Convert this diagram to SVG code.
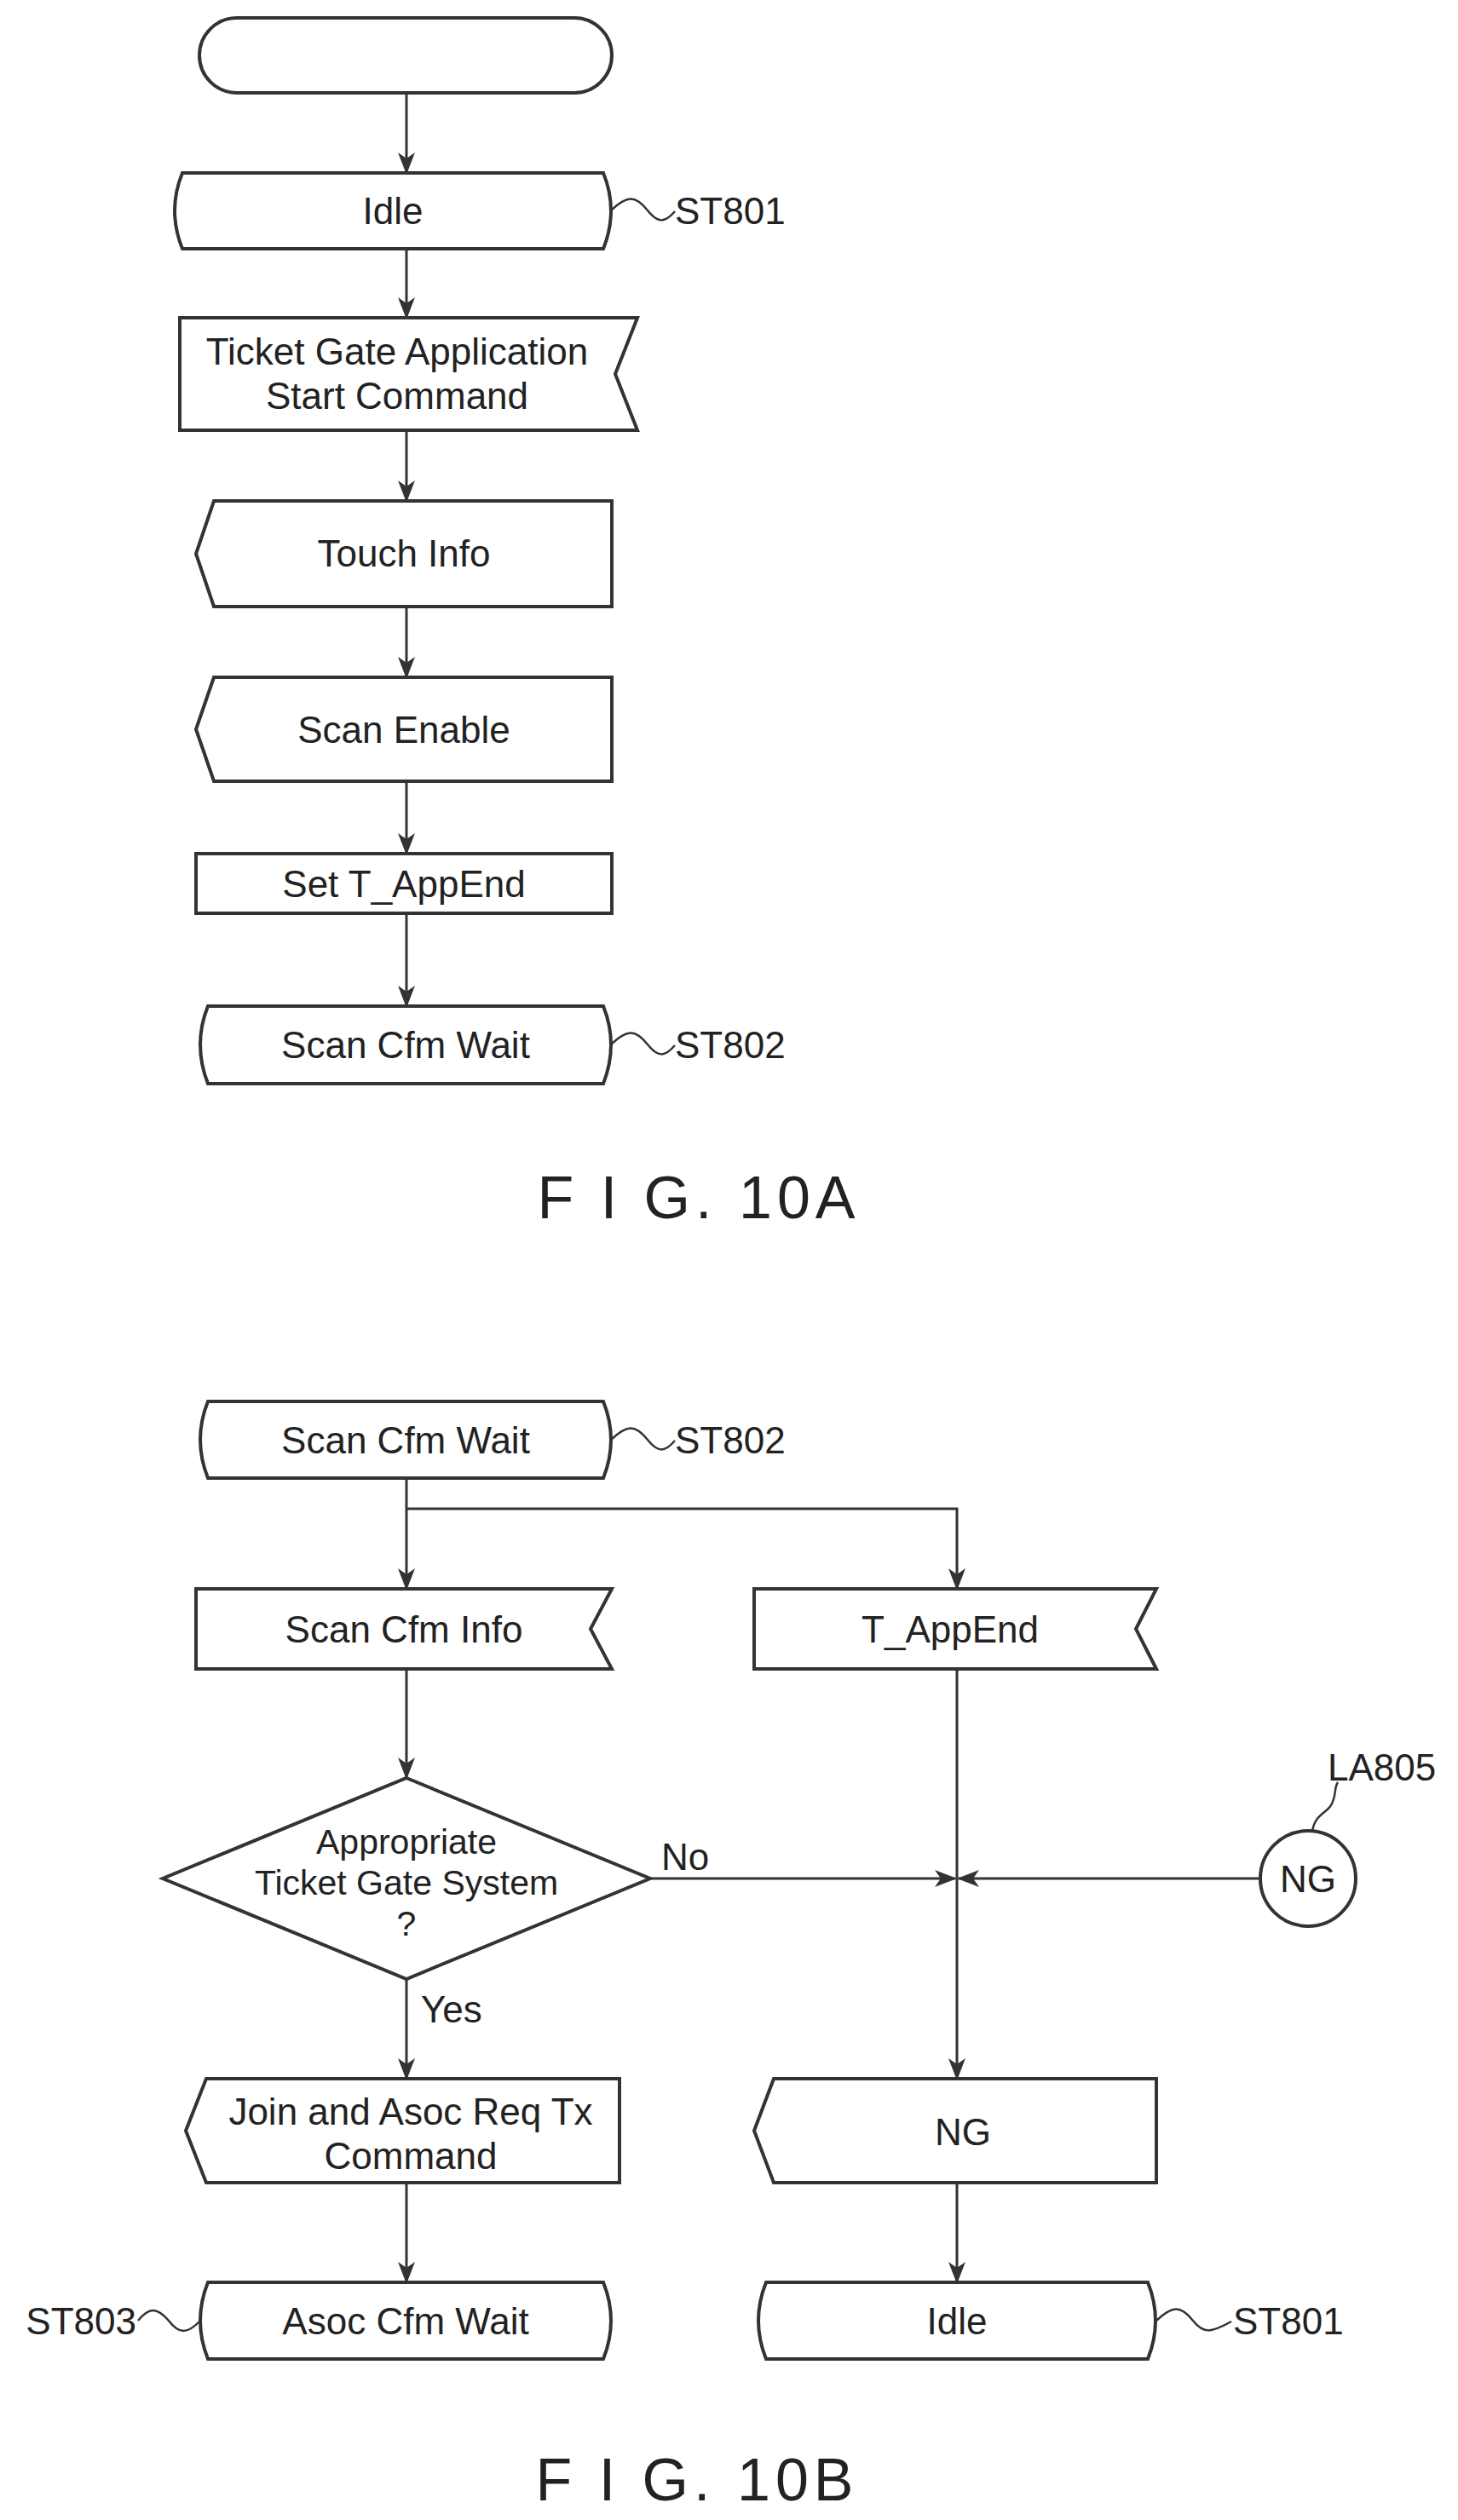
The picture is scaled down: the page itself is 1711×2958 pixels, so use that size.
<svg xmlns="http://www.w3.org/2000/svg" width="1711" height="2958" viewBox="0 0 1711 2958">
<defs>
<marker id="ah" markerWidth="26" markerHeight="22" refX="24" refY="11" orient="auto" markerUnits="userSpaceOnUse">
<path d="M0,1 L7,11 L0,21 L26,11 Z" fill="#333"/>
</marker>
</defs>
<style>
.s{fill:#fff;stroke:#333;stroke-width:4}
.t{font-family:"Liberation Sans",Arial,sans-serif;font-size:44px;fill:#222;text-anchor:middle}
.d{font-family:"Liberation Sans",Arial,sans-serif;font-size:41px;fill:#222;text-anchor:middle}
.l{font-family:"Liberation Sans",Arial,sans-serif;font-size:44px;fill:#222}
.f{font-family:"Liberation Sans","Arial",sans-serif;font-size:70px;fill:#222;text-anchor:middle;letter-spacing:6px}
.c{fill:none;stroke:#333;stroke-width:3}
.sq{fill:none;stroke:#333;stroke-width:2.5}
</style>
<g id="connectors">
<line class="c" x1="477" y1="109" x2="477" y2="203" marker-end="url(#ah)"/>
<line class="c" x1="477" y1="292" x2="477" y2="373" marker-end="url(#ah)"/>
<line class="c" x1="477" y1="505" x2="477" y2="588" marker-end="url(#ah)"/>
<line class="c" x1="477" y1="712" x2="477" y2="795" marker-end="url(#ah)"/>
<line class="c" x1="477" y1="917" x2="477" y2="1002" marker-end="url(#ah)"/>
<line class="c" x1="477" y1="1072" x2="477" y2="1181" marker-end="url(#ah)"/>
<line class="c" x1="477" y1="1735" x2="477" y2="1865" marker-end="url(#ah)"/>
<polyline class="c" points="477,1771 1123,1771 1123,1865" marker-end="url(#ah)"/>
<line class="c" x1="477" y1="1959" x2="477" y2="2087" marker-end="url(#ah)"/>
<line class="c" x1="477" y1="2323" x2="477" y2="2440" marker-end="url(#ah)"/>
<line class="c" x1="477" y1="2562" x2="477" y2="2679" marker-end="url(#ah)"/>
<line class="c" x1="1123" y1="1959" x2="1123" y2="2440" marker-end="url(#ah)"/>
<line class="c" x1="763" y1="2205" x2="1121" y2="2205" marker-end="url(#ah)"/>
<line class="c" x1="1479" y1="2205" x2="1125" y2="2205" marker-end="url(#ah)"/>
<line class="c" x1="1123" y1="2562" x2="1123" y2="2679" marker-end="url(#ah)"/>
<text class="l" x="776" y="2195">No</text>
<text class="l" x="494" y="2374">Yes</text>
</g>
<g id="start"><rect class="s" x="234" y="21" width="484" height="88" rx="44"/></g>
<g id="idle1">
<path class="s" d="M214,203 H708 Q726,247 708,292 H214 Q196,247 214,203 Z"/>
<text class="t" x="461" y="263">Idle</text>
<path class="sq" d="M717,247 C735,230 745,228 760,247 C772,262 780,262 792,248"/>
<text class="l" x="792" y="263">ST801</text>
</g>
<g id="tgstart">
<path class="s" d="M211,373 H748 L722,439 L748,505 H211 Z"/>
<text class="t" x="466" y="428">Ticket Gate Application</text>
<text class="t" x="466" y="480">Start Command</text>
</g>
<g id="touch">
<path class="s" d="M251,588 H718 V712 H251 L230,650 Z"/>
<text class="t" x="474" y="665">Touch Info</text>
</g>
<g id="scanenable">
<path class="s" d="M251,795 H718 V917 H251 L230,856 Z"/>
<text class="t" x="474" y="872">Scan Enable</text>
</g>
<g id="settappend">
<rect class="s" x="230" y="1002" width="488" height="70"/>
<text class="t" x="474" y="1053">Set T_AppEnd</text>
</g>
<g id="scanwait1">
<path class="s" d="M244,1181 H708 Q726,1226 708,1272 H244 Q226,1226 244,1181 Z"/>
<text class="t" x="476" y="1242">Scan Cfm Wait</text>
<path class="sq" d="M717,1226 C735,1209 745,1207 760,1226 C772,1241 780,1241 792,1227"/>
<text class="l" x="792" y="1242">ST802</text>
</g>
<text class="f" x="820" y="1430">F I G. 10A</text>
<g id="scanwait2">
<path class="s" d="M244,1645 H708 Q726,1690 708,1735 H244 Q226,1690 244,1645 Z"/>
<text class="t" x="476" y="1706">Scan Cfm Wait</text>
<path class="sq" d="M717,1690 C735,1673 745,1671 760,1690 C772,1705 780,1705 792,1691"/>
<text class="l" x="792" y="1706">ST802</text>
</g>
<g id="scaninfo">
<path class="s" d="M230,1865 H718 L693,1912 L718,1959 H230 Z"/>
<text class="t" x="474" y="1928">Scan Cfm Info</text>
</g>
<g id="tappend">
<path class="s" d="M885,1865 H1357 L1333,1912 L1357,1959 H885 Z"/>
<text class="t" x="1115" y="1928">T_AppEnd</text>
</g>
<g id="decision">
<path class="s" d="M477,2087 L763,2205 L477,2323 L191,2205 Z"/>
<text class="d" x="477" y="2176">Appropriate</text>
<text class="d" x="477" y="2224">Ticket Gate System</text>
<text class="d" x="477" y="2272">?</text>
</g>
<g id="ngconn">
<circle class="s" cx="1535" cy="2205" r="56"/>
<text class="t" x="1535" y="2221">NG</text>
<path class="sq" d="M1540,2149 C1545,2125 1560,2130 1565,2112 C1568,2102 1566,2098 1570,2092"/>
<text class="l" x="1558" y="2090">LA805</text>
</g>
<g id="join">
<path class="s" d="M242,2440 H727 V2562 H242 L218,2501 Z"/>
<text class="t" x="482" y="2494">Join and Asoc Req Tx</text>
<text class="t" x="482" y="2546">Command</text>
</g>
<g id="ngbox">
<path class="s" d="M908,2440 H1357 V2562 H908 L885,2501 Z"/>
<text class="t" x="1130" y="2518">NG</text>
</g>
<g id="asocwait">
<path class="s" d="M244,2679 H708 Q726,2724 708,2769 H244 Q226,2724 244,2679 Z"/>
<text class="t" x="476" y="2740">Asoc Cfm Wait</text>
<path class="sq" d="M162,2724 C175,2708 184,2708 198,2724 C210,2740 220,2740 235,2724"/>
<text class="l" x="160" y="2740" text-anchor="end">ST803</text>
</g>
<g id="idle2">
<path class="s" d="M899,2679 H1347 Q1365,2724 1347,2769 H899 Q881,2724 899,2679 Z"/>
<text class="t" x="1123" y="2740">Idle</text>
<path class="sq" d="M1357,2724 C1375,2707 1385,2705 1400,2724 C1412,2739 1420,2739 1445,2725"/>
<text class="l" x="1447" y="2740">ST801</text>
</g>
<text class="f" x="818" y="2935">F I G. 10B</text>
</svg>
